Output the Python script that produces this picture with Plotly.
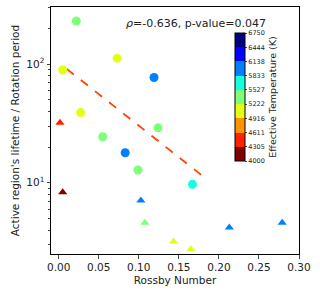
import plotly.graph_objects as go

# circles
circ_ro = [0.022, 0.073, 0.005, 0.119, 0.0274, 0.124, 0.055, 0.083, 0.099, 0.167]
circ_ratio = [230, 112, 89, 77, 39, 29, 24.4, 17.9, 12.8, 9.7]
circ_teff = [5370, 5070, 5070, 5980, 5070, 5370, 5370, 5980, 5370, 5680]
# triangles
tri_ro = [0.0016, 0.005, 0.1026, 0.1076, 0.1434, 0.165, 0.213, 0.279]
tri_ratio = [32, 8.3, 7.1, 4.6, 3.2, 2.76, 4.2, 4.6]
tri_teff = [4460, 4150, 5980, 5370, 5070, 5070, 5980, 5980]
# fit line
fit_ro = [0.010, 0.179]
fit_ratio = [91, 11.5]

x_ticks = [0, 0.05, 0.1, 0.15, 0.2, 0.25, 0.3]
x_ticktext = ["0.00", "0.05", "0.10", "0.15", "0.20", "0.25", "0.30"]
y_ticks = [10, 100]
y_ticktext = ["10<sup>1</sup>", "10<sup>2</sup>"]
cb_ticks = [4000, 4305, 4611, 4916, 5222, 5527, 5833, 6138, 6444, 6750]
colors = ["#800000", "#ff2200", "#ff9400", "#e4ff13", "#7dff7a", "#16ffe1", "#0080ff", "#0000ff", "#000080"]

tmin, tmax = cb_ticks[0], cb_ticks[-1]
cs = []
for i, c in enumerate(colors):
    a = (cb_ticks[i] - tmin) / (tmax - tmin)
    b = (cb_ticks[i + 1] - tmin) / (tmax - tmin)
    cs.append([a, c])
    cs.append([b, c])

font = "DejaVu Sans"
L, R, T, B = 51, 21, 7, 42
W, H = 320, 296
pw, ph = W - L - R, H - T - B

fig = go.Figure()
fig.add_trace(go.Scatter(x=fit_ro, y=fit_ratio, mode="lines",
                         line=dict(color="#ff4500", width=1.8, dash="dash"), showlegend=False))
fig.add_trace(go.Scatter(x=circ_ro, y=circ_ratio, mode="markers", showlegend=False,
                         marker=dict(symbol="circle", size=9, color=circ_teff, cmin=tmin, cmax=tmax,
                                     colorscale=cs, line=dict(width=0),
                                     colorbar=dict(x=(235 - L) / pw, xanchor="left", xpad=0, ypad=0,
                                                   y=(H - B - 161) / ph, yanchor="bottom",
                                                   len=(161 - 33) / ph, lenmode="fraction", thickness=10,
                                                   outlinewidth=1, outlinecolor="black",
                                                   tickmode="array", tickvals=cb_ticks, ticks="outside", ticklen=2,
                                                   tickfont=dict(size=6.5, family=font, color="#222"),
                                                   title=dict(text="Effective Temperature (K)", side="right",
                                                              font=dict(size=9.5, family=font, color="#222"))))))
fig.add_trace(go.Scatter(x=tri_ro, y=tri_ratio, mode="markers", showlegend=False,
                         marker=dict(symbol="triangle-up", size=8, color=tri_teff, cmin=tmin, cmax=tmax,
                                     colorscale=cs, line=dict(width=0))))

fig.update_layout(
    width=W, height=H, margin=dict(l=L, r=R, t=T, b=B, autoexpand=False),
    paper_bgcolor="white", plot_bgcolor="white",
    font=dict(family=font, size=10.5, color="#222"),
    xaxis=dict(range=[-0.0096, 0.30], tickmode="array", tickvals=x_ticks, ticktext=x_ticktext,
               showline=True, linecolor="black", linewidth=1, mirror=True, ticks="outside",
               ticklen=3.5, showgrid=False, zeroline=False, tickfont=dict(size=10.5),
               title=dict(text="Rossby Number", font=dict(size=10.5), standoff=4)),
    yaxis=dict(type="log", range=[0.4, 2.48], tickmode="array", tickvals=y_ticks, ticktext=y_ticktext,
               showline=True, linecolor="black", linewidth=1, mirror=True, ticks="outside",
               ticklen=3.5, showgrid=False, zeroline=False, tickfont=dict(size=10.5),
               minor=dict(ticks="outside", ticklen=2,
                          tickvals=[3, 4, 5, 6, 7, 8, 9, 20, 30, 40, 50, 60, 70, 80, 90, 200, 300],
                          showgrid=False),
               title=dict(text="Active region's lifetime / Rotation period", font=dict(size=10.5), standoff=4)),
    annotations=[dict(text="<i>ρ</i>=-0.636, p-value=0.047", x=(196 - L) / pw, y=(H - B - 15) / ph,
                      xref="paper", yref="paper", showarrow=False, font=dict(size=11))],
)
fig.write_html("out.html", config={"displayModeBar": False},
               post_script="document.body.style.margin='0';")
